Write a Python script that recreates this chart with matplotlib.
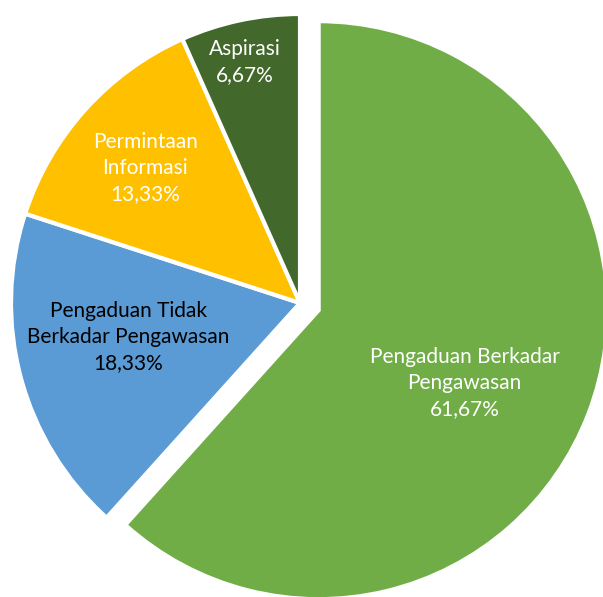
import matplotlib
matplotlib.use("Agg")
import matplotlib.pyplot as plt

# data
categories = ["Pengaduan Berkadar\nPengawasan", "Pengaduan Tidak\nBerkadar Pengawasan",
              "Permintaan\nInformasi", "Aspirasi"]
values = [61.67, 18.33, 13.33, 6.67]
pct_labels = ["61,67%", "18,33%", "13,33%", "6,67%"]

colors = ["#70AD47", "#5B9BD5", "#FFC000", "#43682B"]
text_colors = ["white", "black", "white", "white"]
# label offset from each wedge's centre, in units of the radius
label_off = [(0.505, -0.253), (-0.595, -0.118), (-0.536, 0.467), (-0.190, 0.834)]

W, H = 603, 597
radius = 289
center = (300, H - 303)
explode = [20, 0, 0, 0]  # pie uses data units (pixels here)

fig = plt.figure(figsize=(W / 100, H / 100), dpi=100)
ax = fig.add_axes([0, 0, 1, 1])

wedges, _ = ax.pie(values, colors=colors, startangle=90, counterclock=False,
                   radius=radius, center=center, explode=explode,
                   wedgeprops=dict(edgecolor="white", linewidth=3))
# pie resets the limits, so set them afterwards
ax.set_xlim(0, W)
ax.set_ylim(0, H)
ax.set_aspect("equal")
ax.axis("off")

# labels inside each slice
for w, cat, pct, tc, (ox, oy) in zip(wedges, categories, pct_labels, text_colors, label_off):
    cx, cy = w.center
    ax.text(cx + ox * w.r, cy + oy * w.r, cat + "\n" + pct, ha="center", va="center",
            color=tc, fontsize=15, family="Lato", linespacing=1.375)

fig.savefig("out.png", dpi=100)
